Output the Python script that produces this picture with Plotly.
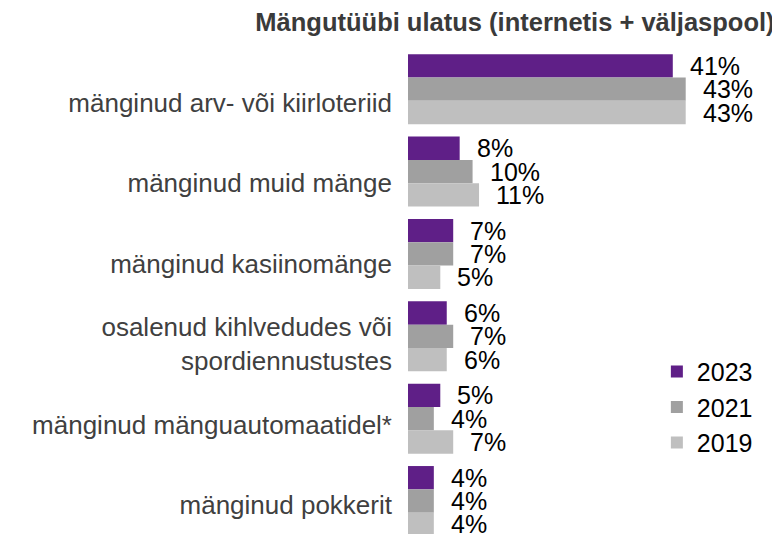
import plotly.graph_objects as go

categories = [
    "mänginud arv- või kiirloteriid",
    "mänginud muid mänge",
    "mänginud kasiinomänge",
    "osalenud kihlvedudes või<br>spordiennustustes",
    "mänginud mänguautomaatidel*",
    "mänginud pokkerit",
]
series_names = ["2023", "2021", "2019"]
values_2023 = [41, 8, 7, 6, 5, 4]
values_2021 = [43, 10, 7, 7, 4, 4]
values_2019 = [43, 11, 5, 6, 7, 4]
colors = ["#5F1F87", "#A0A0A0", "#BFBFBF"]
title_text = "Mängutüübi ulatus (internetis + väljaspool)"

series_values = [values_2023, values_2021, values_2019]
FONT = "Liberation Sans, Arial, sans-serif"
bargap = 0.15

fig = go.Figure()
for name, vals, col in zip(series_names, series_values, colors):
    fig.add_trace(go.Bar(
        y=categories, x=vals, name=name, orientation="h",
        marker=dict(color=col, line=dict(width=0)),
        legendgroup=name,
    ))

# invisible trace carrying the category labels on a second y axis
fig.add_trace(go.Scatter(
    y=categories, x=[0] * len(categories), yaxis="y2", mode="markers",
    marker=dict(opacity=0), showlegend=False, hoverinfo="skip",
))

# value labels
n = len(series_names)
w = (1 - bargap) / n
annotations = []
for j, vals in enumerate(series_values):
    for i, v in enumerate(vals):
        annotations.append(dict(
            x=v, y=i + (j - (n - 1) / 2) * w, xref="x", yref="y",
            text=f"{v}%", showarrow=False, xanchor="left", yanchor="middle",
            xshift=15, font=dict(family=FONT, size=25, color="#000000"),
        ))

fig.update_layout(
    width=772, height=526,
    margin=dict(l=400, r=0, t=40, b=0),
    paper_bgcolor="white", plot_bgcolor="white",
    barmode="group", bargap=bargap, bargroupgap=0,
    title=dict(text=f"<b>{title_text}</b>", x=0.993, xanchor="right",
               xref="container", y=0.973, yanchor="middle", yref="container",
               font=dict(family=FONT, size=25.5, color="#3A3A3A")),
    xaxis=dict(range=[0, 57.6], visible=False),
    yaxis=dict(autorange=False, range=[5.4, -0.5], showgrid=False,
               showline=False, zeroline=False, ticks="", showticklabels=False,
               type="category", categoryorder="array", categoryarray=categories),
    yaxis2=dict(overlaying="y", side="left", anchor="x",
                autorange=False, range=[5.361, -0.684], showgrid=False,
                showline=False, zeroline=False, ticks="",
                type="category", categoryorder="array", categoryarray=categories,
                ticklabelstandoff=15,
                tickfont=dict(family=FONT, size=26, color="#404040")),
    legend=dict(x=0.669, xanchor="left", y=0.381, yanchor="top",
                font=dict(family=FONT, size=25, color="#000000"),
                tracegroupgap=0, traceorder="grouped",
                bgcolor="rgba(0,0,0,0)", itemwidth=30),
    annotations=annotations,
    showlegend=True,
)

fig.write_html("out.html")
